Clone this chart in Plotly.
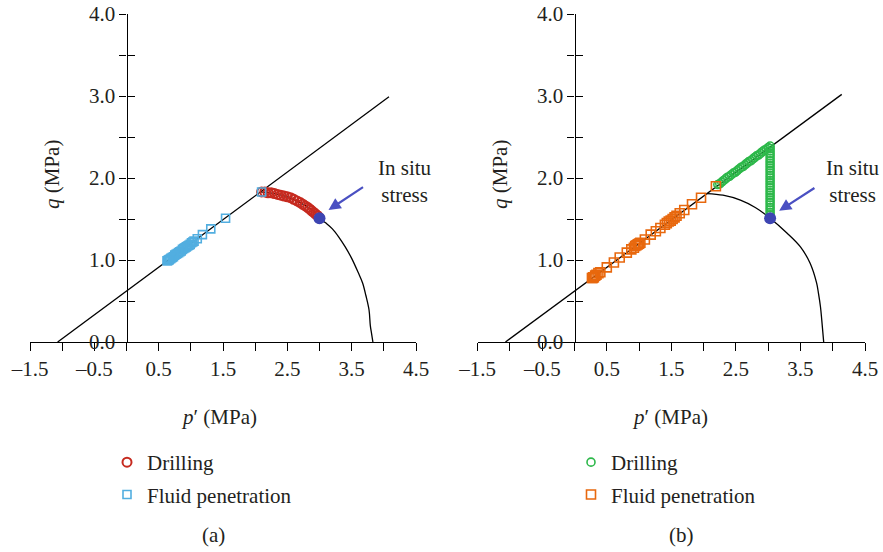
import plotly.graph_objects as go

# ---------------- data (MPa) ----------------
# Panel (a)
csl_a_p = [-1.07, 4.08]
csl_a_q = [0.0, 2.99]
ys_a_p = [2.08, 2.30, 2.50, 2.70, 2.90, 3.00, 3.10, 3.20, 3.30, 3.40, 3.50, 3.60, 3.67, 3.72, 3.77, 3.79, 3.81, 3.83]
ys_a_q = [1.83, 1.81, 1.77, 1.70, 1.60, 1.51, 1.45, 1.38, 1.28, 1.16, 1.02, 0.85, 0.72, 0.57, 0.39, 0.20, 0.10, 0.00]
drill_a_p = [3.00, 2.97, 2.94, 2.91, 2.88, 2.85, 2.82, 2.78, 2.74, 2.70, 2.65, 2.60, 2.55, 2.50, 2.45,
             2.40, 2.35, 2.30, 2.25, 2.20, 2.15, 2.10]
drill_a_q = [1.51, 1.54, 1.56, 1.58, 1.60, 1.62, 1.64, 1.66, 1.68, 1.70, 1.72, 1.74, 1.76, 1.77, 1.78,
             1.79, 1.80, 1.81, 1.82, 1.82, 1.83, 1.83]
fluid_a_p = [2.10, 1.54, 1.31, 1.18, 1.10, 1.05, 1.03, 1.01, 0.99, 0.97, 0.95, 0.93, 0.91, 0.89, 0.87,
             0.85, 0.83, 0.81, 0.79, 0.77, 0.75, 0.73, 0.71, 0.69, 0.67, 0.66, 0.65, 0.64, 0.63]
fluid_a_q = [1.83, 1.51, 1.38, 1.31, 1.26, 1.23, 1.22, 1.21, 1.19, 1.18, 1.17, 1.16, 1.15, 1.14, 1.13,
             1.11, 1.10, 1.09, 1.08, 1.07, 1.06, 1.04, 1.03, 1.02, 1.01, 1.00, 1.00, 0.99, 0.99]
insitu_a = (3.00, 1.51)

# Panel (b)
csl_b_p = [-1.07, 4.14]
csl_b_q = [0.0, 3.02]
ys_b_p = [2.05, 2.30, 2.57, 2.80, 3.03, 3.29, 3.50, 3.65, 3.75, 3.78, 3.81, 3.83, 3.86]
ys_b_q = [1.81, 1.79, 1.73, 1.64, 1.51, 1.33, 1.16, 0.96, 0.72, 0.59, 0.43, 0.27, 0.00]
drill_b_p = [3.03, 3.03, 3.03, 3.03, 3.03, 3.03, 3.03, 3.03, 3.03, 3.03, 3.03, 3.03, 3.03, 3.03, 3.03,
             3.03, 3.03, 3.03, 3.03, 3.03, 3.03, 3.03, 3.03, 3.03, 3.03, 3.03, 3.03, 3.03, 3.03, 3.03,
             3.00, 2.97, 2.94, 2.91, 2.88, 2.85, 2.82, 2.79, 2.76, 2.73, 2.70, 2.67, 2.64, 2.61, 2.58,
             2.55, 2.52, 2.49, 2.46, 2.43, 2.40, 2.37, 2.34, 2.31, 2.28, 2.25, 2.22]
drill_b_q = [1.52, 1.55, 1.58, 1.61, 1.64, 1.67, 1.70, 1.73, 1.76, 1.79, 1.82, 1.85, 1.88, 1.91, 1.94,
             1.97, 2.00, 2.03, 2.06, 2.09, 2.12, 2.15, 2.18, 2.21, 2.24, 2.27, 2.30, 2.33, 2.36, 2.39,
             2.37, 2.35, 2.34, 2.32, 2.30, 2.28, 2.27, 2.25, 2.23, 2.21, 2.20, 2.18, 2.16, 2.14, 2.13,
             2.11, 2.09, 2.07, 2.06, 2.04, 2.02, 2.01, 1.99, 1.97, 1.95, 1.93, 1.92]
fluid_b_p = [2.19, 1.96, 1.82, 1.70, 1.63, 1.58, 1.55, 1.52, 1.49, 1.46, 1.43, 1.40, 1.33, 1.26, 1.18,
             1.09, 1.02, 1.00, 0.98, 0.96, 0.94, 0.92, 0.88, 0.81, 0.70, 0.61, 0.50, 0.40, 0.37, 0.34,
             0.32, 0.30, 0.29, 0.28, 0.27]
fluid_b_q = [1.90, 1.76, 1.68, 1.61, 1.57, 1.54, 1.52, 1.50, 1.48, 1.47, 1.45, 1.43, 1.39, 1.35, 1.31,
             1.25, 1.21, 1.20, 1.19, 1.18, 1.17, 1.15, 1.13, 1.09, 1.03, 0.97, 0.91, 0.85, 0.84, 0.82,
             0.81, 0.79, 0.79, 0.78, 0.78]
insitu_b = (3.03, 1.51)

x_tickvals = [-1.5, -1.0, -0.5, 0.0, 0.5, 1.0, 1.5, 2.0, 2.5, 3.0, 3.5, 4.0, 4.5]
x_ticktext = ["–1.5", "", "–0.5", "", "0.5", "", "1.5", "", "2.5", "", "3.5", "", "4.5"]
y_tickvals = [0.0, 0.5, 1.0, 1.5, 2.0, 2.5, 3.0, 3.5, 4.0]
y_ticktext = ["0.0", "", "1.0", "", "2.0", "", "3.0", "", "4.0"]

# ---------------- styling ----------------
FONT = "Liberation Serif"
FS = 21
TC = "#231f20"
RED = "#c62a1f"
LBLUE = "#52aee0"
GREEN = "#2db84a"
ORANGE = "#e8680e"
INSITU = "#3d45b2"
ARROW = "#4a50c2"

XA = [30 / 883, 416 / 883]
XB = [477.7 / 883, 865 / 883]
YD = [210 / 552, 538 / 552]
XMIN, XMAX = -1.5, 4.5


def ypos(dom):
    return dom[0] + (0 - XMIN) / (XMAX - XMIN) * (dom[1] - dom[0])


fig = go.Figure()

# panel (a)
fig.add_trace(go.Scatter(x=csl_a_p, y=csl_a_q, mode="lines", line=dict(color="black", width=1.3),
                         showlegend=False, xaxis="x", yaxis="y", hoverinfo="skip"))
fig.add_trace(go.Scatter(x=ys_a_p, y=ys_a_q, mode="lines", line=dict(color="black", width=1.3, shape="spline"),
                         showlegend=False, xaxis="x", yaxis="y", hoverinfo="skip"))
fig.add_trace(go.Scatter(x=drill_a_p, y=drill_a_q, mode="markers", name="Drilling",
                         marker=dict(symbol="circle-open", size=9, color=RED, line=dict(width=2)),
                         legend="legend", legendgroup="a1", xaxis="x", yaxis="y"))
fig.add_trace(go.Scatter(x=fluid_a_p, y=fluid_a_q, mode="markers", name="Fluid penetration",
                         marker=dict(symbol="square-open", size=8, color=LBLUE, line=dict(width=1.6)),
                         legend="legend", legendgroup="a2", xaxis="x", yaxis="y"))
fig.add_trace(go.Scatter(x=[insitu_a[0]], y=[insitu_a[1]], mode="markers",
                         marker=dict(symbol="circle", size=12, color=INSITU),
                         showlegend=False, xaxis="x", yaxis="y"))
fig.add_trace(go.Scatter(x=[None], y=[None], mode="markers", showlegend=False, xaxis="x", yaxis="y3",
                         hoverinfo="skip"))

# panel (b)
fig.add_trace(go.Scatter(x=csl_b_p, y=csl_b_q, mode="lines", line=dict(color="black", width=1.3),
                         showlegend=False, xaxis="x2", yaxis="y2", hoverinfo="skip"))
fig.add_trace(go.Scatter(x=ys_b_p, y=ys_b_q, mode="lines", line=dict(color="black", width=1.3, shape="spline"),
                         showlegend=False, xaxis="x2", yaxis="y2", hoverinfo="skip"))
fig.add_trace(go.Scatter(x=drill_b_p, y=drill_b_q, mode="markers", name="Drilling",
                         marker=dict(symbol="circle-open", size=8, color=GREEN, line=dict(width=1.6)),
                         legend="legend2", legendgroup="b1", xaxis="x2", yaxis="y2"))
fig.add_trace(go.Scatter(x=fluid_b_p, y=fluid_b_q, mode="markers", name="Fluid penetration",
                         marker=dict(symbol="square-open", size=9, color=ORANGE, line=dict(width=1.6)),
                         legend="legend2", legendgroup="b2", xaxis="x2", yaxis="y2"))
fig.add_trace(go.Scatter(x=[insitu_b[0]], y=[insitu_b[1]], mode="markers",
                         marker=dict(symbol="circle", size=12, color=INSITU),
                         showlegend=False, xaxis="x2", yaxis="y2"))
fig.add_trace(go.Scatter(x=[None], y=[None], mode="markers", showlegend=False, xaxis="x2", yaxis="y4",
                         hoverinfo="skip"))

xax = dict(range=[XMIN, XMAX], tickvals=x_tickvals, ticktext=x_ticktext, ticks="outside", ticklen=8,
           tickwidth=1.3, tickcolor="black", showline=True, linecolor="black", linewidth=1.3,
           showgrid=False, zeroline=False, automargin=False,
           tickfont=dict(family=FONT, size=FS, color=TC))
yax = dict(range=[0, 4.0], tickvals=y_tickvals, ticktext=y_ticktext, ticks="outside", ticklen=7,
           tickwidth=1.3, tickcolor="black", showline=True, linecolor="black", linewidth=1.3,
           showgrid=False, zeroline=False, automargin=False,
           tickfont=dict(family=FONT, size=FS, color=TC), domain=YD)
yin = dict(range=[0, 4.0], tickvals=y_tickvals, ticks="inside", ticklen=7, tickwidth=1.3,
           tickcolor="black", showticklabels=False, showline=False, showgrid=False, zeroline=False,
           automargin=False)

fig.update_layout(
    width=883, height=552, margin=dict(l=0, r=0, t=0, b=0, autoexpand=False),
    paper_bgcolor="white", plot_bgcolor="rgba(0,0,0,0)",
    font=dict(family=FONT, size=FS, color=TC),
    xaxis=dict(xax, domain=XA, anchor="y"),
    yaxis=dict(yax, anchor="free", position=ypos(XA)),
    xaxis2=dict(xax, domain=XB, anchor="y2"),
    yaxis2=dict(yax, anchor="free", position=ypos(XB)),
    yaxis3=dict(yin, overlaying="y", anchor="free", position=ypos(XA)),
    yaxis4=dict(yin, overlaying="y2", anchor="free", position=ypos(XB)),
    legend=dict(x=107 / 883, y=1 - 442 / 552, xanchor="left", yanchor="top", traceorder="grouped",
                tracegroupgap=2, bgcolor="rgba(0,0,0,0)", font=dict(family=FONT, size=FS, color=TC),
                itemsizing="trace"),
    legend2=dict(x=571 / 883, y=1 - 442 / 552, xanchor="left", yanchor="top", traceorder="grouped",
                 tracegroupgap=2, bgcolor="rgba(0,0,0,0)", font=dict(family=FONT, size=FS, color=TC),
                 itemsizing="trace"),
    showlegend=True,
)

ann = []
# axis titles
for cx in (219, 670):
    ann.append(dict(text="<i>p</i>′ (MPa)", x=cx / 883, y=1 - 417 / 552, xref="paper", yref="paper",
                    xanchor="center", yanchor="middle", showarrow=False,
                    font=dict(family=FONT, size=FS, color=TC)))
for cx in (52, 500):
    ann.append(dict(text="<i>q</i> (MPa)", x=cx / 883, y=1 - 175 / 552, xref="paper", yref="paper",
                    xanchor="center", yanchor="middle", showarrow=False, textangle=-90,
                    font=dict(family=FONT, size=FS, color=TC)))
# panel labels
ann.append(dict(text="(a)", x=213 / 883, y=1 - 535 / 552, xref="paper", yref="paper", showarrow=False,
                xanchor="center", yanchor="middle", font=dict(family=FONT, size=FS, color=TC)))
ann.append(dict(text="(b)", x=681 / 883, y=1 - 535 / 552, xref="paper", yref="paper", showarrow=False,
                xanchor="center", yanchor="middle", font=dict(family=FONT, size=FS, color=TC)))
# in situ annotations
for xr, yr, tx, ty, hx, hy, lx in (("x", "y", 3.70, 1.90, 3.14, 1.61, 4.33),
                                    ("x2", "y2", 3.74, 1.89, 3.17, 1.60, 4.32)):
    ann.append(dict(text="In situ<br>stress", x=lx, y=1.96, xref=xr, yref=yr, showarrow=False,
                    xanchor="center", yanchor="middle", font=dict(family=FONT, size=FS, color=TC)))
    ann.append(dict(text="", x=hx, y=hy, ax=tx, ay=ty, xref=xr, yref=yr, axref=xr, ayref=yr,
                    showarrow=True, arrowhead=2, arrowsize=1.1, arrowwidth=2.2, arrowcolor=ARROW,
                    standoff=0))
fig.update_layout(annotations=ann)

fig.write_html("out.html")
